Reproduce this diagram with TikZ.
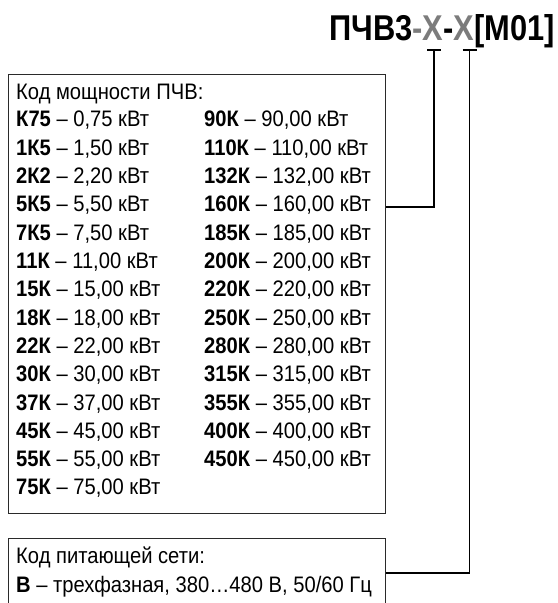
\documentclass[tikz,border=0pt]{standalone}
\usepackage{fontspec}
\setmainfont{Liberation Sans}
\newfontfamily\bodyfont[FakeStretch=0.9]{Liberation Sans}
\newfontfamily\titlefont[FakeStretch=0.86]{Liberation Sans}
\definecolor{xgray}{HTML}{7C7C7C}
\definecolor{boxline}{HTML}{2A2A2A}
\begin{document}
\begin{tikzpicture}[x=1bp,y=-1bp,
  txt/.style={anchor=base west,inner sep=0pt,font=\bodyfont\fontsize{22.5}{24}\selectfont},
  frame/.style={draw=boxline,line width=1.4bp,anchor=north west,inner sep=0pt},
  conn/.style={draw=black,line width=1.4bp}]
\useasboundingbox (0,0) rectangle (558,603);
% title
\node[anchor=base east,inner sep=0pt,font=\titlefont\fontsize{36}{40}\selectfont\bfseries] (title) at (555,41)
  {ПЧВ3\textcolor{xgray}{-X}-\textcolor{xgray}{X}[M01]};
\coordinate (t1) at (434,50);
\coordinate (t2) at (469.5,50);
% boxes
\node[frame,minimum width=377bp,minimum height=439bp] (box1) at (8,74) {};
\node[frame,minimum width=377bp,minimum height=80bp] (box2) at (8,538) {};
% box 1 text
\node[txt] (h1) at (16,100) {Код мощности ПЧВ:};
\node[txt] (a1) at (16,127.0) {\textbf{К75} – 0,75 кВт};
\node[txt] (a2) at (16,155.3) {\textbf{1К5} – 1,50 кВт};
\node[txt] (a3) at (16,183.6) {\textbf{2К2} – 2,20 кВт};
\node[txt] (a4) at (16,211.9) {\textbf{5К5} – 5,50 кВт};
\node[txt] (a5) at (16,240.2) {\textbf{7К5} – 7,50 кВт};
\node[txt] (a6) at (16,268.5) {\textbf{11К} – 11,00 кВт};
\node[txt] (a7) at (16,296.8) {\textbf{15К} – 15,00 кВт};
\node[txt] (a8) at (16,325.1) {\textbf{18К} – 18,00 кВт};
\node[txt] (a9) at (16,353.4) {\textbf{22К} – 22,00 кВт};
\node[txt] (a10) at (16,381.7) {\textbf{30К} – 30,00 кВт};
\node[txt] (a11) at (16,410.0) {\textbf{37К} – 37,00 кВт};
\node[txt] (a12) at (16,438.3) {\textbf{45К} – 45,00 кВт};
\node[txt] (a13) at (16,466.6) {\textbf{55К} – 55,00 кВт};
\node[txt] (a14) at (16,494.9) {\textbf{75К} – 75,00 кВт};
\node[txt] (b1) at (204,127.0) {\textbf{90К} – 90,00 кВт};
\node[txt] (b2) at (204,155.3) {\textbf{110К} – 110,00 кВт};
\node[txt] (b3) at (204,183.6) {\textbf{132К} – 132,00 кВт};
\node[txt] (b4) at (204,211.9) {\textbf{160К} – 160,00 кВт};
\node[txt] (b5) at (204,240.2) {\textbf{185К} – 185,00 кВт};
\node[txt] (b6) at (204,268.5) {\textbf{200К} – 200,00 кВт};
\node[txt] (b7) at (204,296.8) {\textbf{220К} – 220,00 кВт};
\node[txt] (b8) at (204,325.1) {\textbf{250К} – 250,00 кВт};
\node[txt] (b9) at (204,353.4) {\textbf{280К} – 280,00 кВт};
\node[txt] (b10) at (204,381.7) {\textbf{315К} – 315,00 кВт};
\node[txt] (b11) at (204,410.0) {\textbf{355К} – 355,00 кВт};
\node[txt] (b12) at (204,438.3) {\textbf{400К} – 400,00 кВт};
\node[txt] (b13) at (204,466.6) {\textbf{450К} – 450,00 кВт};
% box 2 text
\node[txt] (h2) at (16,563) {Код питающей сети:};
\node[txt] (c1) at (16,592) {\textbf{В} – трехфазная, 380…480 В, 50/60 Гц};
% connectors
\coordinate (k1) at (t1 |- 0,207);
\draw[conn] (box1.east |- k1) -| (t1);
\draw[conn] ([xshift=-7bp]t1) -- ([xshift=7bp]t1);
\coordinate (k2) at (t2 |- 0,573);
\draw[conn] (box2.east |- k2) -| (t2);
\draw[conn] ([xshift=-7bp]t2) -- ([xshift=7bp]t2);
\end{tikzpicture}
\end{document}
